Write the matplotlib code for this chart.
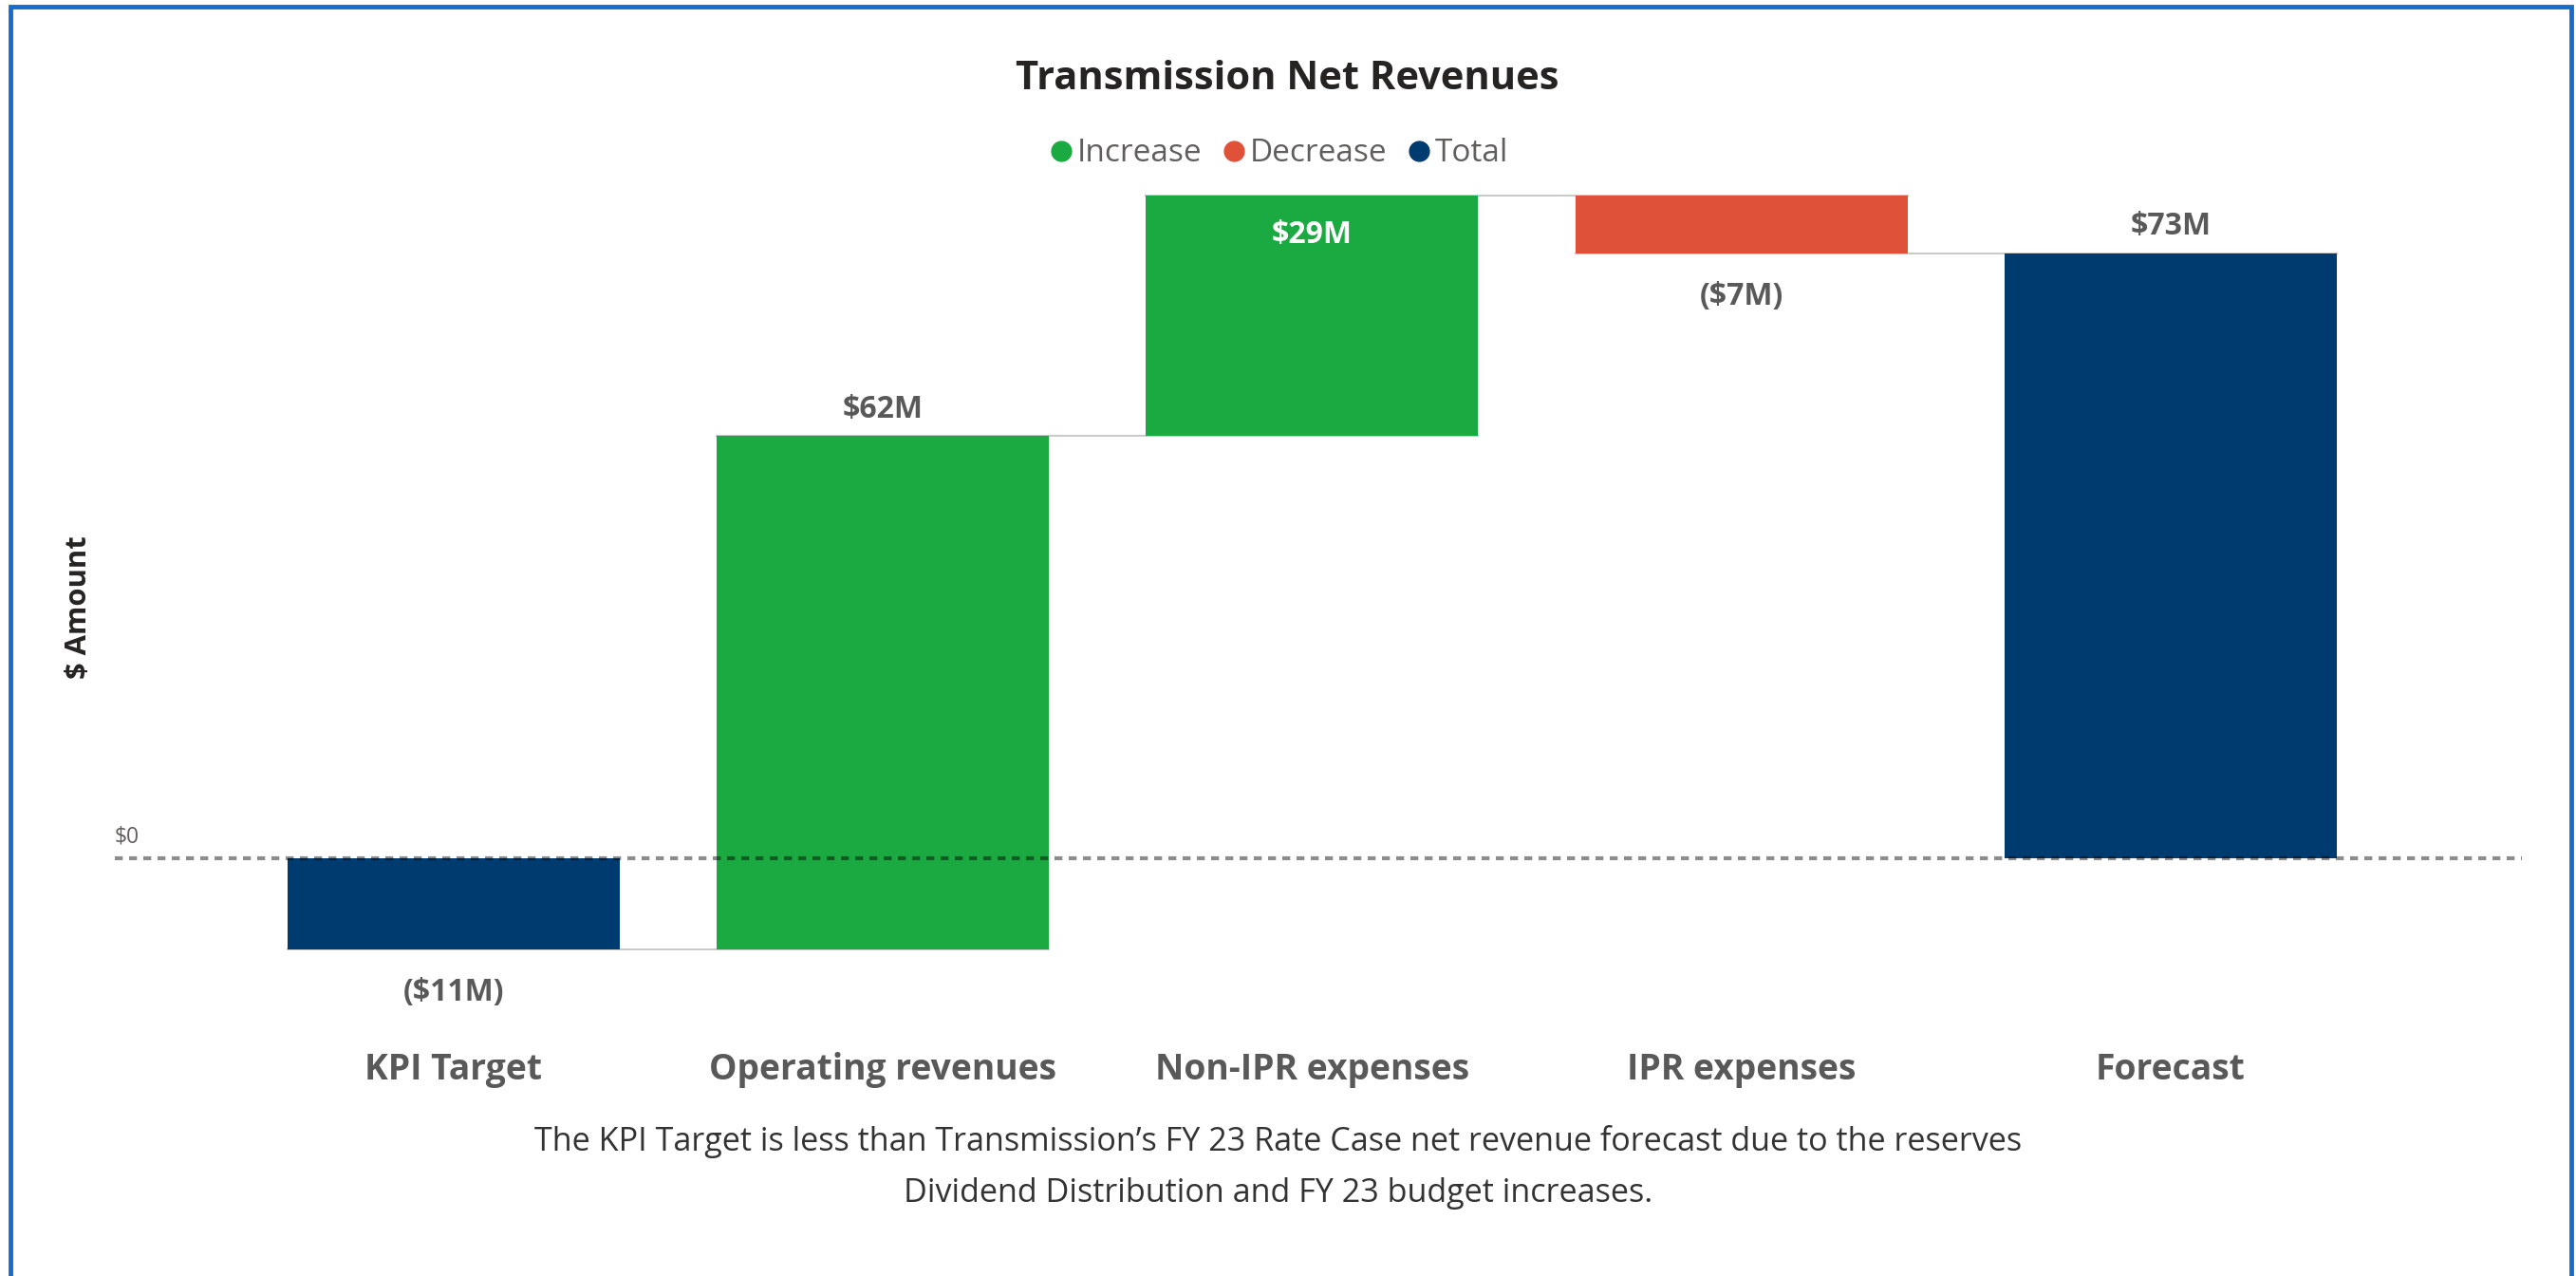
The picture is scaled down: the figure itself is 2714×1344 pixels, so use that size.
import matplotlib
matplotlib.use("Agg")
import matplotlib.pyplot as plt
from matplotlib.lines import Line2D
from matplotlib.patches import Rectangle

plt.rcParams['font.family'] = ['Open Sans', 'DejaVu Sans']

# ---- data ----
categories = ["KPI Target", "Operating revenues", "Non-IPR expenses", "IPR expenses", "Forecast"]
values = [-11, 62, 29, -7, 73]
kinds = ["Total", "Increase", "Increase", "Decrease", "Total"]
value_labels = ["($11M)", "$62M", "$29M", "($7M)", "$73M"]
legend_names = ["Increase", "Decrease", "Total"]
title = "Transmission Net Revenues"
ylabel = "$ Amount"
zero_label = "$0"
caption_lines = [
    "The KPI Target is less than Transmission\u2019s FY 23 Rate Case net revenue forecast due to the reserves",
    "Dividend Distribution and FY 23 budget increases.",
]

colors = {"Increase": "#1BAA41", "Decrease": "#E0513A", "Total": "#003B6F"}

W, H = 2714, 1344
fig = plt.figure(figsize=(W / 100, H / 100), dpi=100)
fig.patch.set_facecolor("white")

# axes placement in pixels
ax_left, ax_right = 121, 2657
ax_top, ax_bot = 190, 1010
ax = fig.add_axes([ax_left / W, 1 - ax_bot / H, (ax_right - ax_left) / W, (ax_bot - ax_top) / H])
ax.set_xlim(-0.789, 4.818)
ax.set_ylim(-12.14, 81.79)
ax.axis("off")

bar_w = 0.774

# compute waterfall bottoms/tops
bottoms, tops, ends = [], [], []
running = 0
for v, k in zip(values, kinds):
    if k == "Total":
        b, t = 0, v
        running = v
    else:
        b, t = running, running + v
        running = running + v
    bottoms.append(min(b, t))
    tops.append(max(b, t))
    ends.append(running)

heights = [t - b for b, t in zip(bottoms, tops)]
xs = list(range(len(categories)))
ax.bar(xs, heights, bottom=bottoms, width=bar_w,
       color=[colors[k] for k in kinds], zorder=2, linewidth=0)

# connectors
for i in range(len(xs) - 1):
    lvl = ends[i]
    ax.plot([xs[i] - bar_w / 2, xs[i + 1] + bar_w / 2], [lvl, lvl],
            color="#c8c8c8", lw=1.4, zorder=1)

# zero line
ax.axhline(0, color="black", alpha=0.45, lw=3, dashes=(2, 1.6), zorder=3)
ax.annotate(zero_label, xy=(ax.get_xlim()[0], 0), xytext=(0, 16), textcoords="offset points",
            ha="left", va="center", fontsize=16.5, color="#605E5C")

# value labels
for i, (v, k, lab) in enumerate(zip(values, kinds, value_labels)):
    if i == 2:
        y = tops[i]; off = -30; c = "white"
    elif v < 0:
        y = bottoms[i]; off = -33; c = "#595959"
    else:
        y = tops[i]; off = 20; c = "#595959"
    ax.annotate(lab, xy=(i, y), xytext=(0, off), textcoords="offset points",
                ha="center", va="center", fontsize=23, fontweight="bold", color=c)

# category labels
for i, cat in enumerate(categories):
    ax.annotate(cat, xy=(i, 0), xycoords=ax.get_xaxis_transform(),
                xytext=(0, -(1127 - ax_bot) * 0.72), textcoords="offset points",
                ha="center", va="center", fontsize=26.8, fontweight="bold", color="#595959")

# y label
fig.text(83 / W, 1 - 640 / H, ylabel, rotation=90, ha="center", va="center",
         fontsize=22.3, fontweight="bold", color="#252423")

# title
fig.text(0.4997, 1 - 84 / H, title, ha="center", va="center",
         fontsize=30, fontweight="bold", color="#252423")

# legend
handles = [Line2D([], [], marker="o", ls="none", markersize=15,
                  markerfacecolor=colors[n], markeredgecolor=colors[n]) for n in legend_names]
leg = fig.legend(handles, legend_names, loc="center", bbox_to_anchor=(0.4963, 1 - 162 / H),
                 ncol=3, frameon=False, fontsize=24, handletextpad=0.1, columnspacing=0.6,
                 handlelength=0.8, borderaxespad=0)
for t in leg.get_texts():
    t.set_color("#605E5C")

# caption
fig.text(0.4963, 1 - 1203 / H, caption_lines[0], ha="center", va="center", fontsize=24.6, color="#333333")
fig.text(0.4963, 1 - 1257 / H, caption_lines[1], ha="center", va="center", fontsize=24.6, color="#333333")

# border (bottom edge lies outside the image)
fig.patches.append(Rectangle((11 / W, -10 / H), (2709 - 11) / W, (1337 + 10) / H,
                             transform=fig.transFigure, fill=False,
                             edgecolor="#1A6CCC", linewidth=3.5))

fig.savefig("out.png", dpi=100, facecolor="white")
